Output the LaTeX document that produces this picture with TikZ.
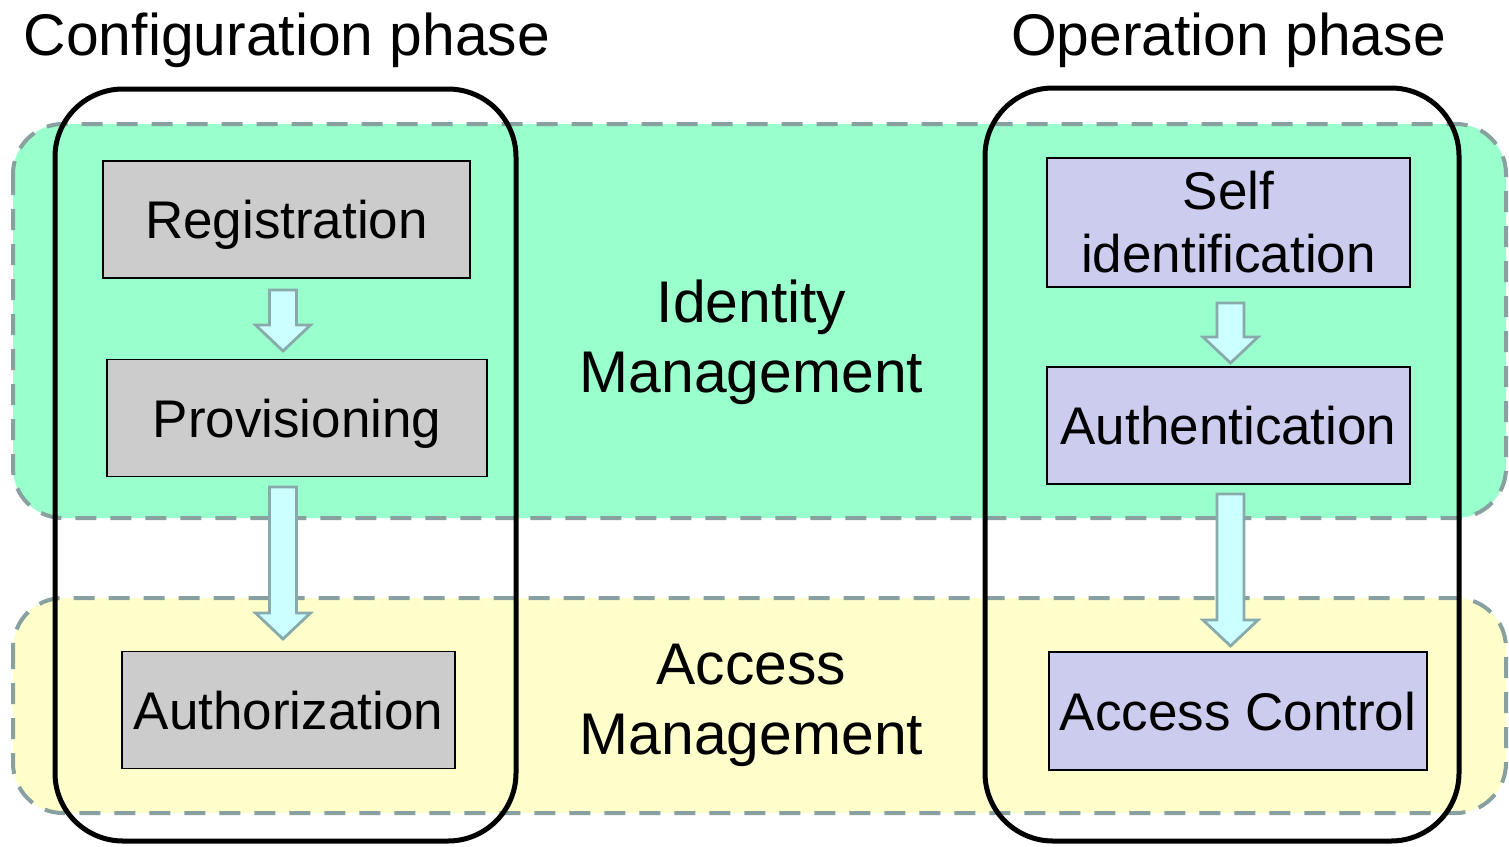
\documentclass[tikz,border=0pt]{standalone}
\usepackage{fontspec}
\setmainfont{Liberation Sans}
\usetikzlibrary{calc}
\definecolor{bandgreen}{HTML}{99FFCC}
\definecolor{bandyellow}{HTML}{FFFFCC}
\definecolor{dashgray}{HTML}{88A0A0}
\definecolor{boxgray}{HTML}{CCCCCC}
\definecolor{boxlav}{HTML}{CCCCEE}
\definecolor{arrowfill}{HTML}{CCFFFF}
\definecolor{arrowline}{HTML}{88AAAA}
\newcommand{\blockarrowdraw}[2]{%
  \draw[blockarrow] ($(#1)+(-13.5,0)$) -- ($(#2)+(-13.5,-26)$) -- ($(#2)+(-27.5,-26)$) -- (#2)
    -- ($(#2)+(27.5,-26)$) -- ($(#2)+(13.5,-26)$) -- ($(#1)+(13.5,0)$) -- cycle;}
\begin{document}
\begin{tikzpicture}[x=0.5pt,y=-0.5pt,
  band/.style={draw=dashgray,line width=2pt,dash pattern=on 10.5pt off 7pt,rounded corners=25pt},
  phase/.style={draw=black,line width=2.5pt,rounded corners=34pt},
  stepbox/.style={draw=black,line width=0.9pt,inner sep=0pt,font=\fontsize{26.5}{31.5}\selectfont,text height=19pt,text depth=0pt},
  graybox/.style={stepbox,fill=boxgray},
  lavbox/.style={stepbox,fill=boxlav},
  bigtext/.style={font=\fontsize{29.4}{35}\selectfont,align=center,inner sep=0pt},
  blockarrow/.style={draw=arrowline,fill=arrowfill,line width=1.4pt,line join=miter}]
\useasboundingbox (0,0) rectangle (1509,846);
% bands
\draw[band,fill=bandgreen] (13,124) rectangle (1506,518);
\draw[band,fill=bandyellow] (13,598) rectangle (1506,813);
% phase frames
\draw[phase] (55,89) rectangle (516,841);
\draw[phase] (985,88) rectangle (1459,841);
% titles
\node[font=\fontsize{29.4}{35}\selectfont,anchor=base,inner sep=0pt] (tconf) at (287,55) {Configuration phase};
\node[font=\fontsize{29.4}{35}\selectfont,anchor=base,inner sep=0pt] (toper) at (1228.5,55) {Operation phase};
% category labels
\node[bigtext] (idm) at (751.5,342.3) {Identity\\Management};
\node[bigtext] (acm) at (751.5,705.8) {Access\\Management};
% step boxes
\node[graybox,minimum width=183.5pt,minimum height=58.5pt] (reg) at (286.5,219.5) {Registration};
\node[graybox,minimum width=190pt,minimum height=58.5pt] (prov) at (297,418) {Provisioning};
\node[graybox,minimum width=166.5pt,minimum height=58.5pt] (auth) at (288.5,710) {Authorization};
\node[draw=black,line width=0.9pt,fill=boxlav,minimum width=181.5pt,minimum height=64.5pt,inner sep=0pt,
      font=\fontsize{26.5}{31.5}\selectfont,align=center] (self) at (1228.5,222.5) {Self\\identification};
\node[lavbox,minimum width=181.5pt,minimum height=58.5pt] (authn) at (1228.5,425.5) {Authentication};
\node[lavbox,minimum width=189pt,minimum height=59pt] (acc) at (1238,711) {Access Control};
% arrow end points
\coordinate (a1s) at (283,290); \coordinate (a1e) at (283,351);
\coordinate (a2s) at (283,487); \coordinate (a2e) at (283,639);
\coordinate (a3s) at (1230.5,303); \coordinate (a3e) at (1230.5,363);
\coordinate (a4s) at (1230.5,494); \coordinate (a4e) at (1230.5,646);
\blockarrowdraw{a1s}{a1e}
\blockarrowdraw{a2s}{a2e}
\blockarrowdraw{a3s}{a3e}
\blockarrowdraw{a4s}{a4e}
\end{tikzpicture}
\end{document}
